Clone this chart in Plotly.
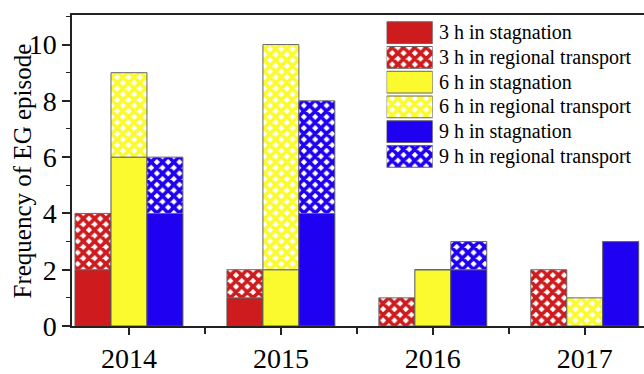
import plotly.graph_objects as go

# Episode counts per year, split by residence time and weather pattern
years = ["2014", "2015", "2016", "2017"]
stag_3h = [2, 1, 0, 0]
regional_3h = [2, 1, 1, 2]
stag_6h = [6, 2, 2, 0]
regional_6h = [3, 8, 0, 1]
stag_9h = [4, 4, 2, 3]
regional_9h = [2, 4, 1, 0]

series_names = [
    "3 h in stagnation",
    "3 h in regional transport",
    "6 h in stagnation",
    "6 h in regional transport",
    "9 h in stagnation",
    "9 h in regional transport",
]
y_title = "Frequency of EG episode"

RED = "#CE1B1E"
YELLOW = "#FAFA2E"
BLUE = "#2000F0"
FONT = "Liberation Serif"

x_pos = list(range(len(years)))

fig = go.Figure()

groups = [
    ("h3", RED, stag_3h, regional_3h),
    ("h6", YELLOW, stag_6h, regional_6h),
    ("h9", BLUE, stag_9h, regional_9h),
]


def hatch(color):
    return dict(shape="x", fgcolor=color, bgcolor="white", size=8, solidity=0.7,
                fillmode="replace")


for grp, color, stag, reg in groups:
    fig.add_trace(go.Bar(
        x=x_pos, y=stag, offsetgroup=grp, showlegend=False,
        marker=dict(color=color, line=dict(color="#555555", width=1)),
    ))
    fig.add_trace(go.Bar(
        x=x_pos, y=reg, base=stag, offsetgroup=grp, showlegend=False,
        marker=dict(color=color, pattern=hatch(color),
                    line=dict(color="#666666", width=1)),
    ))

# Key drawn as swatches on a small inset axis
key_colors = [RED, RED, YELLOW, YELLOW, BLUE, BLUE]
for i, name in enumerate(series_names):
    c = key_colors[i]
    marker = dict(color=c, line=dict(color="#666666", width=1))
    if i % 2 == 1:
        marker["pattern"] = hatch(c)
    fig.add_trace(go.Bar(
        x=[1], y=[name], orientation="h", width=0.88, showlegend=False,
        xaxis="x2", yaxis="y2", marker=marker, hoverinfo="skip",
    ))
    fig.add_annotation(
        x=1, y=name, xref="x2", yref="y2", text=name, showarrow=False,
        xanchor="left", xshift=4, font=dict(family=FONT, size=20, color="black"),
    )

# Vertical axis title
fig.add_annotation(
    x=-0.0857, y=0.5, xref="paper", yref="paper", text=y_title, textangle=-90,
    showarrow=False, xanchor="center", yanchor="middle",
    font=dict(family=FONT, size=25, color="black"),
)

fig.update_layout(
    width=644, height=374,
    margin=dict(l=72, r=0, t=15, b=43),
    paper_bgcolor="white", plot_bgcolor="white",
    barmode="group", bargap=0.29, bargroupgap=0,
    font=dict(family=FONT, color="black"),
    xaxis=dict(
        range=[-0.375, 3.39], tickmode="array", tickvals=x_pos, ticktext=years,
        showgrid=False, zeroline=False, showline=True, linecolor="#222222",
        linewidth=1.5, mirror=True, ticks="outside", ticklen=7, tickwidth=1.5,
        tickcolor="#222222", tickfont=dict(family=FONT, size=28, color="black"),
        minor=dict(tickmode="array", tickvals=[0.5, 1.5, 2.5], ticks="outside",
                   ticklen=6, tickwidth=1.5, tickcolor="#222222"),
    ),
    yaxis=dict(
        range=[0, 11.05], tickmode="array", tickvals=[0, 2, 4, 6, 8, 10],
        showgrid=False, zeroline=False, showline=True, linecolor="#222222",
        linewidth=1.5, ticks="outside", ticklen=8, tickwidth=1.5,
        tickcolor="#222222", tickfont=dict(family=FONT, size=28, color="black"),
        minor=dict(dtick=1, ticks="outside", ticklen=4, tickwidth=1.2,
                   tickcolor="#222222"),
    ),
    xaxis2=dict(domain=[0.550, 0.6306], range=[0, 1], anchor="y2",
                visible=False, fixedrange=True),
    yaxis2=dict(domain=[0.502, 0.9866], anchor="x2", autorange="reversed",
                type="category", visible=False, fixedrange=True),
)

fig.write_html("out.html")
